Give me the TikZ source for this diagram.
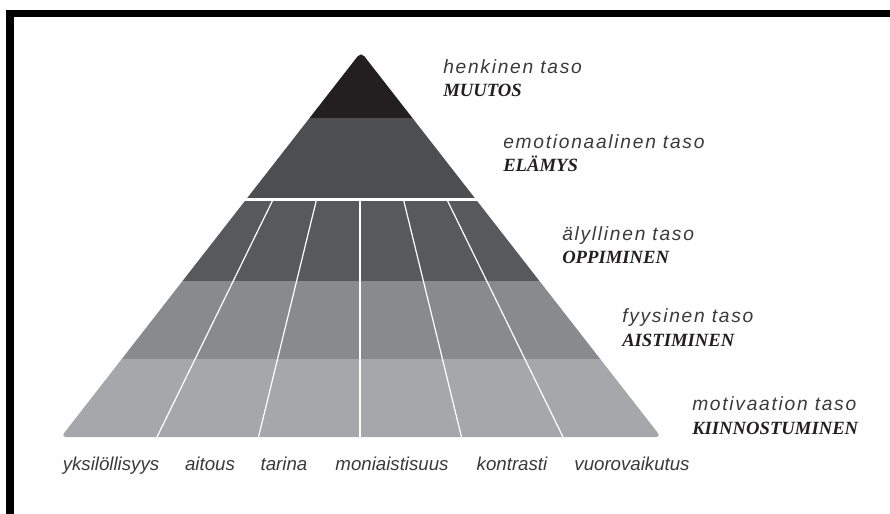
\documentclass[tikz,border=0pt]{standalone}
\usepackage{fontspec}
\setmainfont{Liberation Serif}
\newfontfamily\tasofont[LetterSpace=9]{Liberation Sans}
\newfontfamily\sarakefont{Liberation Sans}
\usetikzlibrary{calc}

\definecolor{henkicol}{HTML}{231F20}
\definecolor{emocol}{HTML}{4D4E50}
\definecolor{alycol}{HTML}{58595B}
\definecolor{fyyscol}{HTML}{898A8C}
\definecolor{motivcol}{HTML}{A6A7AA}
\definecolor{tasogray}{HTML}{3A3A3A}
\definecolor{vaihegray}{HTML}{231F20}

\begin{document}
\begin{tikzpicture}[x=0.75pt, y=-0.75pt,
    taso/.style={anchor=base west, inner sep=0pt, text=tasogray, font=\tasofont\itshape\fontsize{14.4}{16}\selectfont},
    vaihe/.style={anchor=base west, inner sep=0pt, text=vaihegray, font=\bfseries\itshape\fontsize{14}{16}\selectfont},
    sarake/.style={anchor=base, inner sep=0pt, text=tasogray, font=\sarakefont\itshape\fontsize{14}{16}\selectfont},
    jako/.style={draw=white, line width=0.9pt}]
    \useasboundingbox (0,0) rectangle (890,514);

    % frame
    \fill[black] (6,10) rectangle (890,17);
    \fill[black] (6,10) rectangle (14,514);

    % pyramid
    \begin{scope}
        \clip[rounded corners=4pt] (361,52) -- (661,437) -- (61,437) -- cycle;
        \fill[henkicol] (0,40) rectangle (890,118);
        \fill[emocol] (0,118) rectangle (890,197.5);
        \fill[alycol] (0,200.5) rectangle (890,281);
        \fill[fyyscol] (0,281) rectangle (890,359);
        \fill[motivcol] (0,359) rectangle (890,440);
        \foreach \k in {-2,...,2}
            \draw[jako] ({360+\k*43.7},200.5) -- ({360+\k*101.5},437);
    \end{scope}

    % levels
    \node[taso] (henki) at (443,73) {henkinen taso};
    \node[vaihe] (muutos) at (443,96) {MUUTOS};
    \node[taso] (emo) at (503,148) {emotionaalinen taso};
    \node[vaihe] (elamys) at (503,171) {ELÄMYS};
    \node[taso] (aly) at (562,240) {älyllinen taso};
    \node[vaihe] (oppiminen) at (562,263) {OPPIMINEN};
    \node[taso] (fyys) at (622,322) {fyysinen taso};
    \node[vaihe] (aistiminen) at (622,346) {AISTIMINEN};
    \node[taso] (motiv) at (692,410) {motivaation taso};
    \node[vaihe] (kiinnostuminen) at (692,434) {KIINNOSTUMINEN};

    % columns
    \node[sarake] (yksil) at (111,470) {yksilöllisyys};
    \node[sarake] (aitous) at (210,470) {aitous};
    \node[sarake] (tarina) at (284,470) {tarina};
    \node[sarake] (moniaist) at (392,470) {moniaistisuus};
    \node[sarake] (kontrasti) at (512,470) {kontrasti};
    \node[sarake] (vuoro) at (632,470) {vuorovaikutus};
\end{tikzpicture}
\end{document}
